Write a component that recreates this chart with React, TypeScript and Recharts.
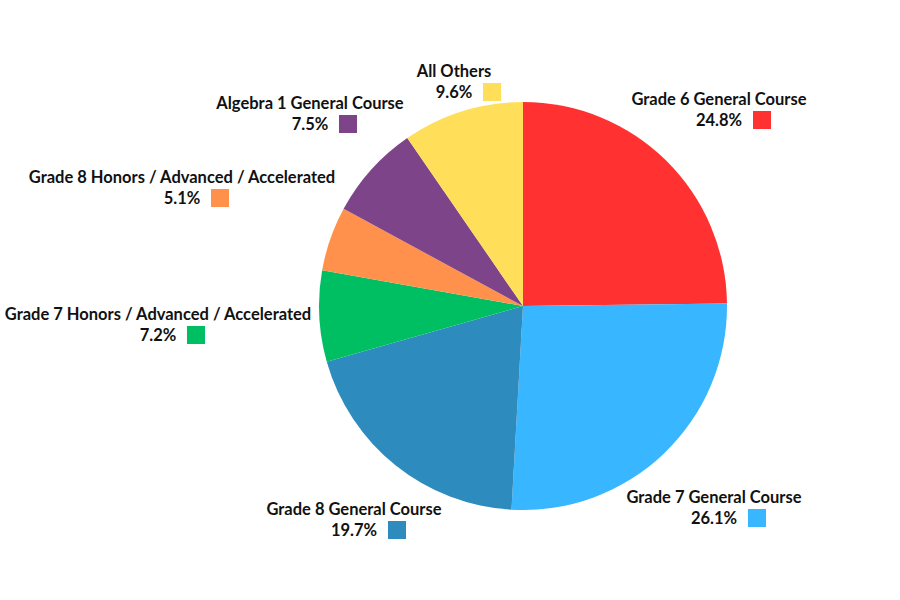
import { PieChart, Pie, Cell } from "recharts";

const categories = [
  "Grade 6 General Course",
  "Grade 7 General Course",
  "Grade 8 General Course",
  "Grade 7 Honors / Advanced / Accelerated",
  "Grade 8 Honors / Advanced / Accelerated",
  "Algebra 1 General Course",
  "All Others",
];
const shares = [24.8, 26.1, 19.7, 7.2, 5.1, 7.5, 9.6];
const colors = ["#FF3131", "#38B6FF", "#2E8BBD", "#00BF63", "#FF914D", "#7D4489", "#FFDE59"];

// label block centre, relative to the pie centre
const labelOffsets = [
  [196, -207],
  [191, 191],
  [-169, 203],
  [-365, 8],
  [-341, -129],
  [-213, -203],
  [-69, -235],
];

const data = categories.map((name, i) => ({ name, value: shares[i], color: colors[i] }));

const FONT = "Lato, 'Open Sans', sans-serif";

function renderLabel(props: any) {
  const { cx, cy, index } = props;
  const [dx, dy] = labelOffsets[index];
  const x = cx + dx;
  const y = cy + dy;
  const pct = `${shares[index].toFixed(1)}%`;
  const pctHalf = pct.length * 5;
  return (
    <g key={`lbl-${index}`}>
      <text x={x} y={y} textAnchor="middle" dominantBaseline="central" fill="#111" fontSize={16.5} fontWeight={700} fontFamily={FONT}>
        {categories[index]}
      </text>
      <text x={x} y={y + 21} textAnchor="middle" dominantBaseline="central" fill="#111" fontSize={16.5} fontWeight={700} fontFamily={FONT}>
        {pct}
      </text>
      <rect x={x + pctHalf + 9} y={y + 12} width={18} height={18} fill={colors[index]} />
    </g>
  );
}

export default function App() {
  return (
    <div style={{ position: "absolute", left: 0, top: 0, width: 900, height: 600, background: "#fff" }}>
      <PieChart width={900} height={600} margin={{ top: 0, right: 0, bottom: 0, left: 0 }}>
        <Pie
          data={data}
          dataKey="value"
          cx={523}
          cy={306}
          outerRadius={204}
          startAngle={90}
          endAngle={-270}
          stroke="none"
          labelLine={false}
          label={renderLabel}
          isAnimationActive={false}
        >
          {data.map((entry, index) => (
            <Cell key={`cell-${index}`} fill={entry.color} />
          ))}
        </Pie>
      </PieChart>
    </div>
  );
}
